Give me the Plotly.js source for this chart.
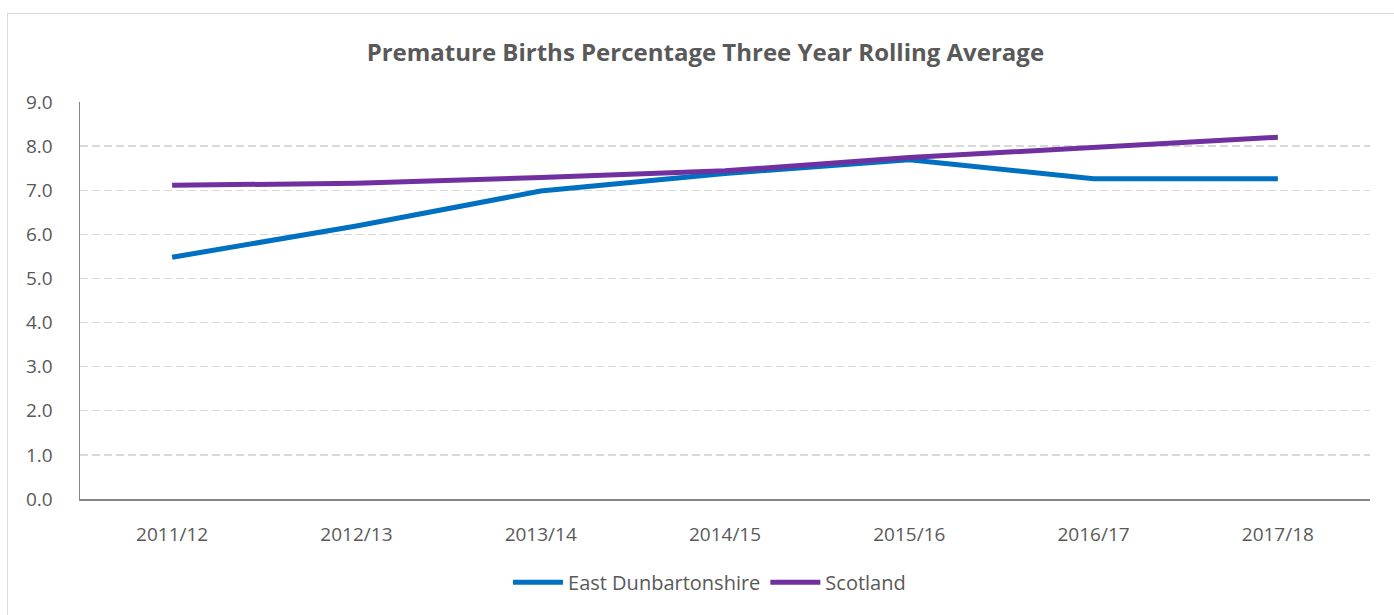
<!DOCTYPE html>
<html>
<head>
<meta charset="utf-8">
<script src="https://cdn.plot.ly/plotly-3.0.1.min.js"></script>
<style>
html,body{margin:0;padding:0;background:#fff;}
#frame{position:absolute;left:7px;top:13px;width:1400px;height:620px;border:1px solid #d9d9d9;box-sizing:border-box;}
#chart{position:absolute;left:0;top:0;width:1394px;height:615px;}
</style>
</head>
<body>
<div id="frame"></div>
<div id="chart"></div>
<script>
var categories = ["2011/12","2012/13","2013/14","2014/15","2015/16","2016/17","2017/18"];
var eastDunbartonshire = [5.48, 6.19, 6.98, 7.38, 7.69, 7.26, 7.26];
var scotland = [7.11, 7.16, 7.29, 7.44, 7.74, 7.97, 8.20];
var yTicks = [0,1,2,3,4,5,6,7,8,9];
var yTickText = yTicks.map(function(v){return v.toFixed(1);});

var fontFam = '"Open Sans", "Liberation Sans", sans-serif';
var data = [
  {x: categories, y: eastDunbartonshire, name: "East Dunbartonshire", type: "scatter", mode: "lines",
   line: {color: "#0070c0", width: 5}},
  {x: categories, y: scotland, name: "Scotland", type: "scatter", mode: "lines",
   line: {color: "#7030a0", width: 5}}
];
var layout = {
  width: 1394, height: 615,
  margin: {l: 80, r: 24, t: 102, b: 116},
  paper_bgcolor: "rgba(0,0,0,0)", plot_bgcolor: "rgba(0,0,0,0)",
  font: {family: fontFam, color: "#595959", size: 19},
  title: {text: "<b>Premature Births Percentage Three Year Rolling Average</b>",
          font: {family: fontFam, size: 24, color: "#595959"},
          x: 0.506, xanchor: "center", y: 0.915, yanchor: "middle"},
  xaxis: {type: "category", range: [-0.5, 6.5], showgrid: false, showline: true, linecolor: "#868686", linewidth: 1.5,
          ticks: "", tickfont: {size: 19, color: "#595959"}, ticklabelstandoff: 18, zeroline: false},
  yaxis: {range: [0, 9], tickvals: yTicks, ticktext: yTickText, showgrid: true,
          gridcolor: "#d9d9d9", griddash: "8px,4px", gridwidth: 1.3,
          showline: true, linecolor: "#868686", linewidth: 1.5, zeroline: false,
          ticks: "", tickfont: {size: 19, color: "#595959"}, ticklabelstandoff: 22},
  showlegend: true,
  legend: {orientation: "h", x: 0.488, xanchor: "center", y: -0.21, yanchor: "middle",
           font: {size: 20, color: "#595959"}, itemwidth: 50, tracegroupgap: 0},
  hovermode: false
};
Plotly.newPlot("chart", data, layout, {displayModeBar: false, staticPlot: true});
</script>
</body>
</html>
